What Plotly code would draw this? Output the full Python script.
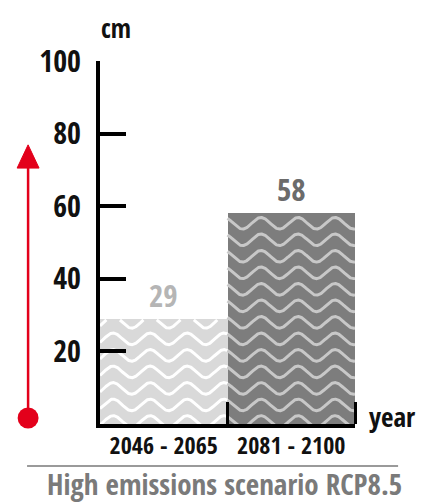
import numpy as np
import plotly.graph_objects as go

# ---- data ----
categories = ["2046 - 2065", "2081 - 2100"]
values = [29, 58]
y_ticks = [20, 40, 60, 80, 100]
y_unit = "cm"
x_unit = "year"
title_text = "High emissions scenario RCP8.5"

bar_colors = ["#d9d9d9", "#7d7d7d"]
wave_colors = ["#ffffff", "#c8c8c8"]
label_colors = ["#b5b5b5", "#6b6b6b"]

FONT = "Open Sans Condensed, DejaVu Sans Condensed, sans-serif"

x_pos = list(range(len(categories)))

fig = go.Figure()
fig.add_trace(go.Bar(
    x=x_pos, y=values, width=1.0,
    marker=dict(color=bar_colors, line=dict(width=0)),
    hoverinfo="skip", showlegend=False,
))

# wave texture inside each bar (derived from bar position and value)
spacing = 4.55     # data units between wave lines
amp = 1.6          # wave amplitude in data units
wavelength = 0.29  # in x data units
crest_x = 0.763
for i, (xc, v) in enumerate(zip(x_pos, values)):
    xs = np.linspace(xc - 0.5, xc + 0.5, 500)
    k = 0
    while True:
        base = 0.7 + k * spacing
        if base - amp > v:
            break
        ys = base + amp * np.cos(2 * np.pi * (xs - crest_x) / wavelength)
        ys = np.where(ys > v - 0.3, np.nan, ys)
        fig.add_trace(go.Scatter(
            x=xs, y=ys, mode="lines",
            line=dict(color=wave_colors[i], width=3),
            hoverinfo="skip", showlegend=False, connectgaps=False,
        ))
        k += 1

# value labels
for i, (xc, v) in enumerate(zip(x_pos, values)):
    fig.add_annotation(
        x=xc, y=v, xref="x", yref="y", text=f"<b>{v}</b>", showarrow=False,
        yanchor="bottom", yshift=1,
        font=dict(family=FONT, size=31, color=label_colors[i]),
    )

# axis unit labels
fig.add_annotation(x=0.063, y=1.09, xref="paper", yref="paper", text=f"<b>{y_unit}</b>",
                   showarrow=False, xanchor="center", yanchor="middle",
                   font=dict(family=FONT, size=26, color="#111111"))
fig.add_annotation(x=1.149, y=0.022, xref="paper", yref="paper", text=f"<b>{x_unit}</b>",
                   showarrow=False, xanchor="center", yanchor="middle",
                   font=dict(family=FONT, size=27, color="#111111"))

# bottom title with separator line
fig.add_shape(type="line", xref="paper", yref="paper", x0=-0.286, x1=1.169, y0=-0.1157, y1=-0.1157,
              line=dict(color="#9a9a9a", width=2))
fig.add_annotation(x=0.488, y=-0.165, xref="paper", yref="paper", text=f"<b>{title_text}</b>",
                   showarrow=False, xanchor="center", yanchor="middle",
                   font=dict(family=FONT, size=29, color="#7a7a7a"))

# red rising arrow
red = "#e3001b"
ax_x = -0.282
fig.add_shape(type="line", xref="paper", yref="paper", x0=ax_x, x1=ax_x, y0=0.0165, y1=0.72,
              line=dict(color=red, width=2.5))
fig.add_shape(type="path", xref="paper", yref="paper",
              path=f"M {ax_x-0.043} 0.705 L {ax_x} 0.769 L {ax_x+0.043} 0.705 Z",
              fillcolor=red, line=dict(color=red, width=1))
fig.add_shape(type="circle", xref="paper", yref="paper",
              x0=ax_x - 0.041, x1=ax_x + 0.041, y0=0.0165 - 0.029, y1=0.0165 + 0.029,
              fillcolor=red, line=dict(color=red, width=0))

# page body has an 8px default margin: shrink figure and margins to compensate
fig.update_layout(
    width=416, height=494,
    margin=dict(l=92, r=69, t=53, b=78),
    paper_bgcolor="white", plot_bgcolor="white",
    bargap=0, showlegend=False,
    font=dict(family=FONT),
)
fig.update_xaxes(
    range=[-0.5, 1.5], tickvals=x_pos, ticktext=[f"<b>{c}</b>" for c in categories],
    ticks="", showline=True, linecolor="black", linewidth=4,
    showgrid=False, zeroline=False, automargin=False, tickangle=0,
    ticklabelstandoff=-3,
    tickfont=dict(family=FONT, size=24, color="#111111"),
    minor=dict(tickvals=[0.5, 1.5], ticks="inside", ticklen=22, tickwidth=3, tickcolor="black"),
)
fig.update_yaxes(
    range=[0, 100], tickvals=y_ticks, ticktext=[f"<b>{t}</b>" for t in y_ticks],
    ticks="inside", ticklen=26, tickwidth=4, tickcolor="black",
    showline=True, linecolor="black", linewidth=4,
    showgrid=False, zeroline=False, automargin=False,
    ticklabelstandoff=9,
    tickfont=dict(family=FONT, size=30, color="#111111"),
)

fig.write_html("out.html")
